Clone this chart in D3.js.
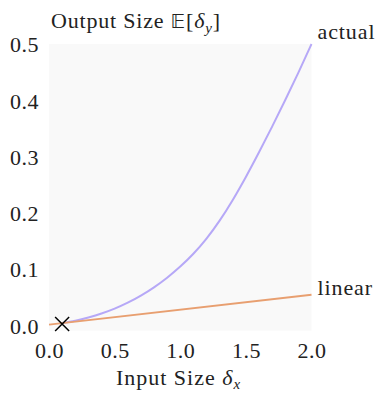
<!DOCTYPE html>
<html><head><meta charset="utf-8">
<script src="https://cdn.jsdelivr.net/npm/d3@7"></script>
<style>
body{margin:0;background:#fff;}
svg text{font-family:"Liberation Serif","DejaVu Serif",serif;fill:#222;}
</style></head>
<body><svg id="c" width="388" height="401"></svg>
<script>
const actualX = [0.1,0.2,0.3,0.4,0.5,0.6,0.7,0.8,0.9,1.0,1.1,1.2,1.3,1.4,1.5,1.6,1.7,1.8,1.9,2.0];
const actualY = [0.0036,0.0078,0.0135,0.0205,0.0292,0.0398,0.0525,0.0672,0.0843,0.1040,0.1268,0.1538,0.1858,0.2226,0.2635,0.3073,0.3530,0.4003,0.4491,0.5000];
const linearX = [0, 2];
const linearY = [0.0008, 0.054];
const markerPt = [0.1, 0.002];
const xTicks = [0, 0.5, 1.0, 1.5, 2.0];
const yTicks = [0, 0.1, 0.2, 0.3, 0.4, 0.5];
const seriesLabels = ["actual", "linear"];

const svg = d3.select("#c");
const L = 49, R = 311.5, T = 44, B = 330.7;
const x = d3.scaleLinear().domain([0, 2]).range([L, R]);
const y = d3.scaleLinear().domain([-0.01, 0.5]).range([B, T]);

svg.append("rect").attr("x", L).attr("y", T).attr("width", R - L).attr("height", B - T).attr("fill", "#f9f9f9");

const fs = 22;
const xa = svg.append("g").attr("transform", `translate(0,${B})`)
  .call(d3.axisBottom(x).tickValues(xTicks).tickFormat(d3.format(".1f")).tickSize(0).tickPadding(0));
xa.attr("font-family", null).attr("font-size", null);
xa.select(".domain").remove();
xa.selectAll("text").attr("font-size", fs).attr("dy", null).attr("y", 27).attr("fill", "#222").attr("letter-spacing", "0.5px");

const ya = svg.append("g").attr("transform", `translate(${L},0)`)
  .call(d3.axisLeft(y).tickValues(yTicks).tickFormat(d3.format(".1f")).tickSize(0).tickPadding(10));
ya.attr("font-family", null).attr("font-size", null);
ya.select(".domain").remove();
ya.selectAll("text").attr("font-size", fs).attr("dy", "0.36em").attr("fill", "#222").attr("letter-spacing", "0.5px");

const line = d3.line().x(d => x(d[0])).y(d => y(d[1])).curve(d3.curveMonotoneX);
svg.append("path").datum(actualX.map((v, i) => [v, actualY[i]]))
  .attr("d", line).attr("fill", "none").attr("stroke", "#b6a8f7").attr("stroke-width", 2);
svg.append("path").datum(linearX.map((v, i) => [v, linearY[i]]))
  .attr("d", line).attr("fill", "none").attr("stroke", "#e89f70").attr("stroke-width", 2);

// marker
const mx = x(markerPt[0]), my = y(markerPt[1]), s = 7;
svg.append("path").attr("d", `M${mx - s},${my - s}L${mx + s},${my + s}M${mx - s},${my + s}L${mx + s},${my - s}`)
  .attr("stroke", "#000").attr("stroke-width", 1.5);

// series labels
svg.append("text").attr("x", R + 6).attr("y", y(actualY[actualY.length - 1]) - 5)
  .attr("font-size", fs).attr("letter-spacing", "0.9px").text(seriesLabels[0]);
svg.append("text").attr("x", R + 6).attr("y", y(linearY[1]) - 0)
  .attr("font-size", fs).attr("letter-spacing", "0.9px").text(seriesLabels[1]);

// title
const t = svg.append("text").attr("x", 51).attr("y", 28).attr("font-size", fs).attr("letter-spacing", "0.8px");
t.append("tspan").text("Output Size ");
t.append("tspan").attr("font-family", "DejaVu Sans").attr("font-size", 20).text("𝔼");
t.append("tspan").text("[");
t.append("tspan").attr("font-style", "italic").text("δ");
t.append("tspan").attr("font-style", "italic").attr("font-size", 15).attr("dy", 5).text("y");
t.append("tspan").attr("dy", -5).text("]");

// x label
const xl = svg.append("text").attr("x", 178.5).attr("y", 385).attr("text-anchor", "middle").attr("font-size", fs).attr("letter-spacing", "1px");
xl.append("tspan").text("Input Size ");
xl.append("tspan").attr("font-style", "italic").text("δ");
xl.append("tspan").attr("font-style", "italic").attr("font-size", 15).attr("dy", 4).text("x");
</script></body></html>
